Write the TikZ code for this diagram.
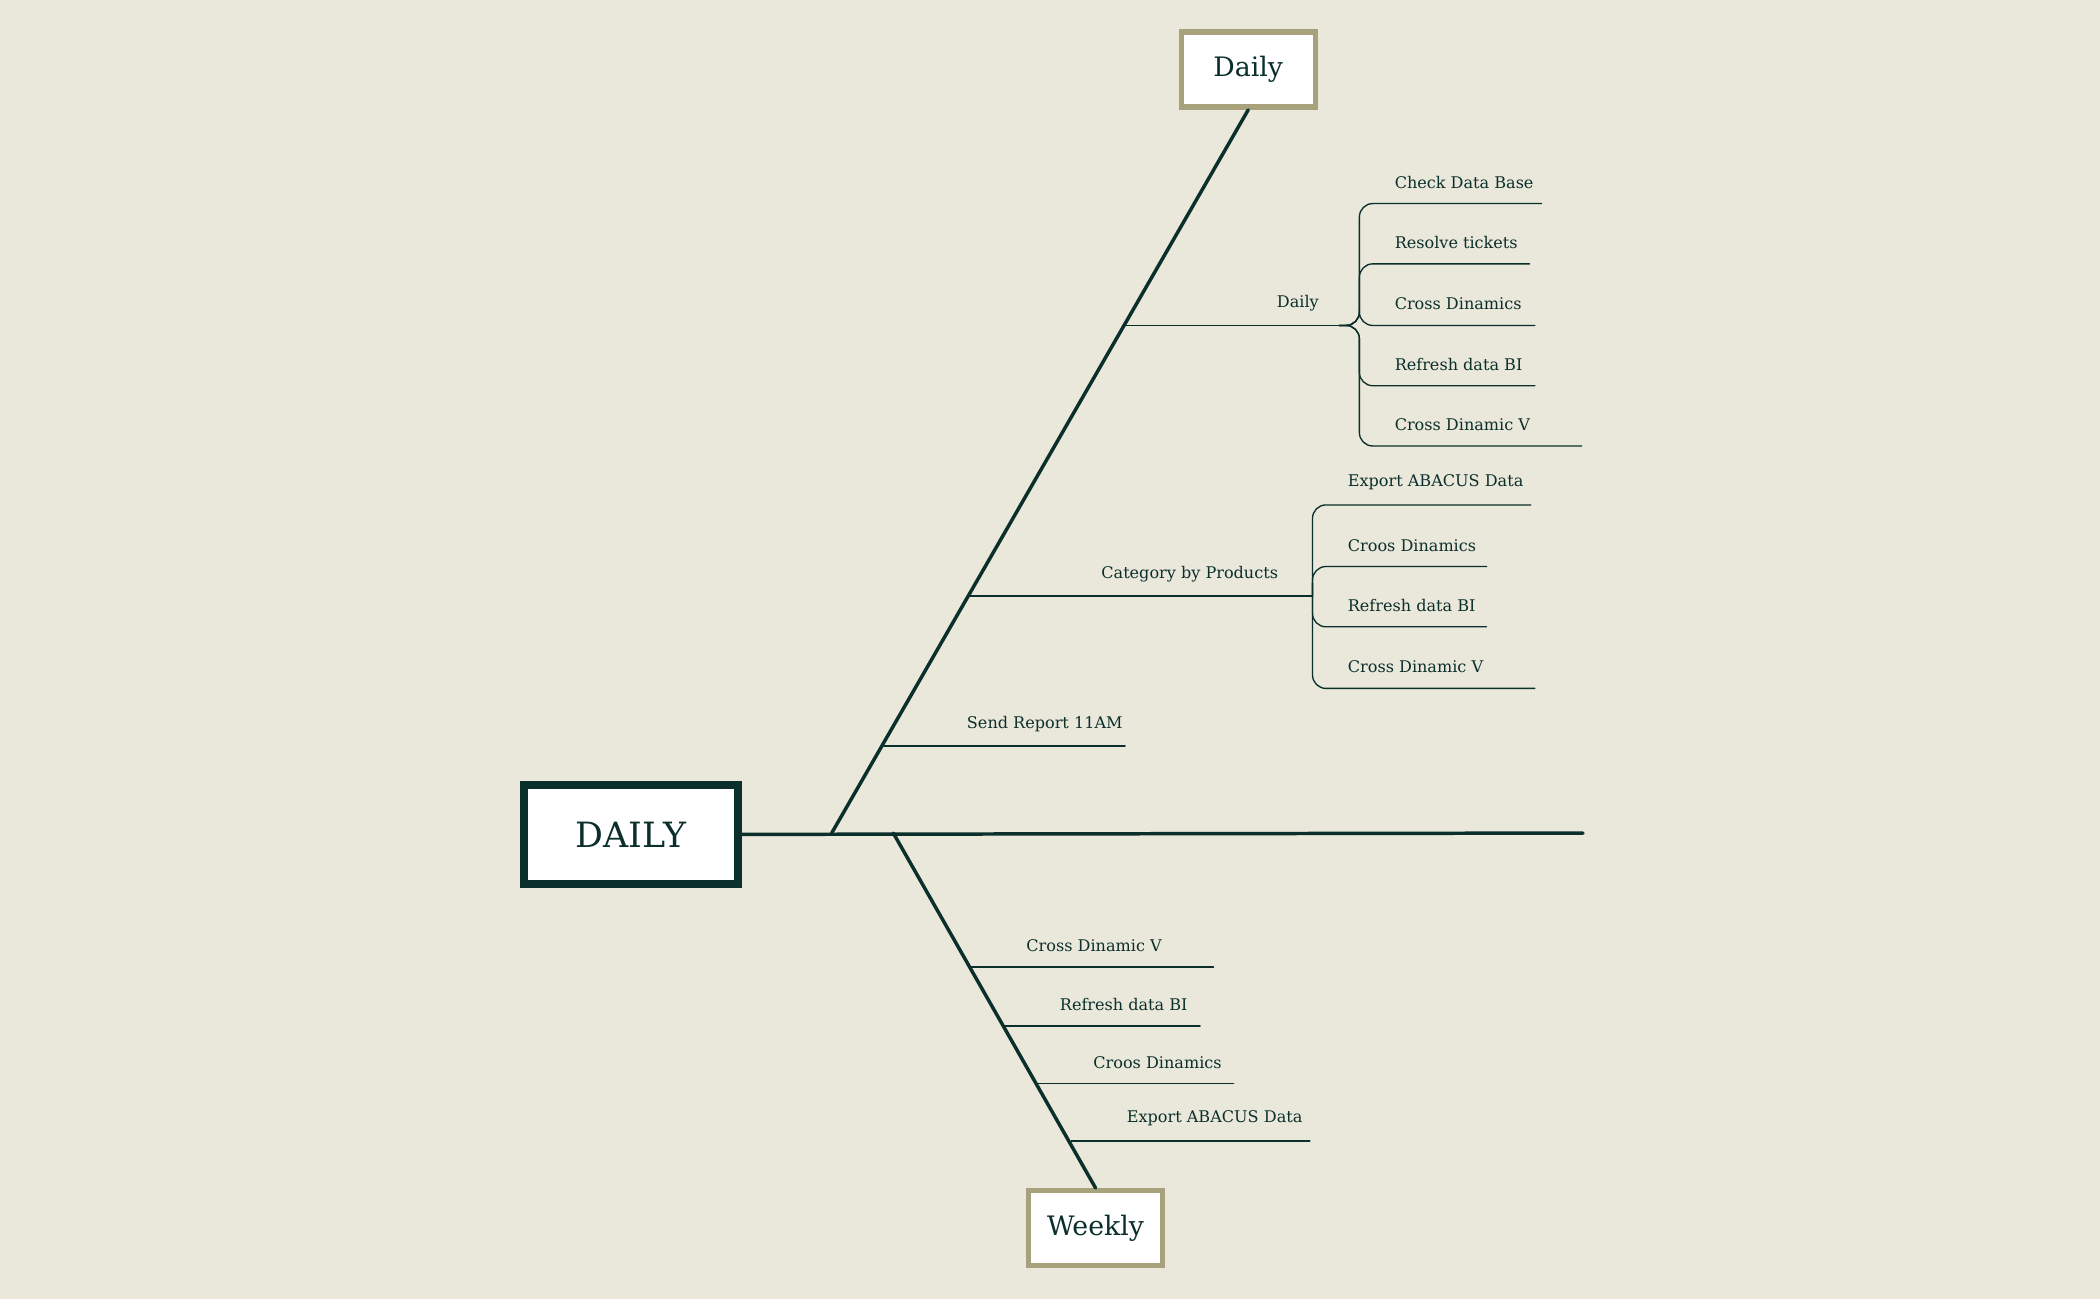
\documentclass[tikz,border=0pt]{standalone}
\usepackage{fontspec}
\setmainfont{DejaVu Serif}
\usetikzlibrary{positioning}
\definecolor{fond}{HTML}{EAE7DB}
\definecolor{sombre}{HTML}{0B2F2B}
\definecolor{sable}{HTML}{A8A27C}
\begin{document}
\begin{tikzpicture}[x=0.5pt, y=-0.5pt, sombre, line cap=round]
  \tikzstyle{rootbox}=[draw=sombre, line width=3pt, fill=white, minimum width=80pt, minimum height=37pt, font=\fontsize{13}{15}\selectfont, text=sombre]
  \tikzstyle{headbox}=[draw=sable, line width=2pt, fill=white, minimum width=50pt, minimum height=28pt, font=\fontsize{10}{12}\selectfont, text=sombre]
  \tikzstyle{lbl}=[font=\fontsize{6}{7}\selectfont, text=sombre, inner sep=1pt, anchor=south west]
  \tikzstyle{bone}=[line width=1.3pt]
  \tikzstyle{twig}=[line width=0.6pt]
  \tikzstyle{bracket}=[line width=0.5pt, rounded corners=5pt]

  \fill[fond] (0,0) rectangle (1568,970);
  \useasboundingbox (0,0) rectangle (1568,970);

	\node[rootbox]   (root) at (471,623) {DAILY};
	\node[headbox]   (top) at (932,52) {Daily};
	\node[headbox]   (bottom) at (818,917) {Weekly};

	\coordinate (spineA) at (621,622);
	\coordinate (spineB) at (667,622);
	\coordinate (tail) at (1182,622);
	\draw[bone] (root.east) -- (tail);
	\draw[bone] (spineA) -- (top.south);
	\draw[bone] (spineB) -- (bottom.north);

	% upper branches
	\coordinate (dA) at (841,243);  \coordinate (dB) at (1000,243);
	\coordinate (cA) at (723,445);  \coordinate (cB) at (980,445);
	\coordinate (sA) at (660,557);  \coordinate (sB) at (840,557);
	\draw[twig] (dA) -- (dB) node[lbl, anchor=south east, pos=0.92, yshift=4pt] {Daily};
	\draw[twig] (cA) -- (cB) node[lbl, anchor=south east, pos=0.91, yshift=4pt] {Category by Products};
	\draw[twig] (sA) -- (sB) node[lbl, pos=0.33, yshift=4pt] {Send Report 11AM};

	% children of Daily
	\foreach \y/\xe/\txt in {152/1151/Check Data Base, 197/1142/Resolve tickets, 243/1146/Cross Dinamics, 288/1146/Refresh data BI, 333/1181/Cross Dinamic V/S BI} {
		\draw[bracket] (dB) -| (1015,\y) -- (\xe,\y);
		\node[lbl] at (1039,\y-9) {\txt};
	}
	% children of Category by Products
	\foreach \y/\xe/\txt in {377/1143/Export ABACUS Data, 423/1110/Croos Dinamics, 468/1110/Refresh data BI, 514/1146/Cross Dinamic V/S BI} {
		\draw[bracket] (cB) -| (980,\y) -- (\xe,\y);
		\node[lbl] at (1004,\y-9) {\txt};
	}

	% lower branches
	\foreach \y/\xs/\xe/\xt/\txt in {722/725/906/764/Cross Dinamic V/S BI, 766/750/896/789/Refresh data BI, 809/774/921/814/Croos Dinamics, 852/800/978/839/Export ABACUS Data} {
		\draw[twig] (\xs,\y) -- (\xe,\y);
		\node[lbl] at (\xt,\y-9) {\txt};
	}

\end{tikzpicture}
\end{document}
